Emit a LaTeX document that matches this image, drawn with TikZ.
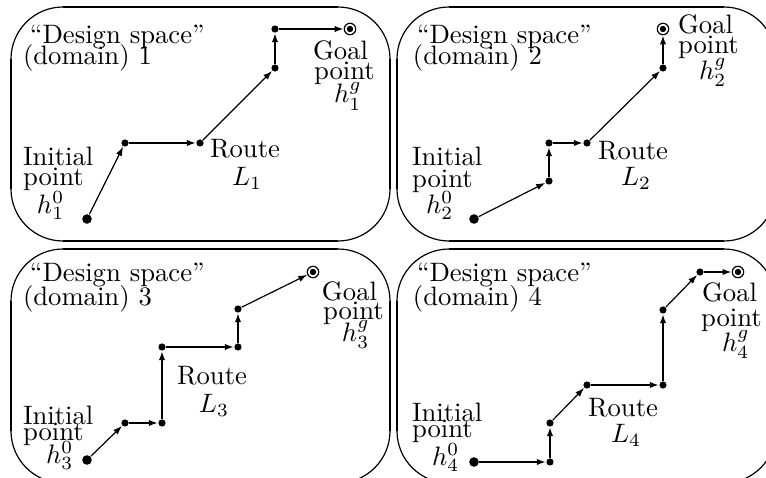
\documentclass[tikz,border=0pt]{standalone}
\usetikzlibrary{arrows.meta}
\tikzset{
  box/.style={line width=0.45pt, rounded corners=19.5pt},
  side/.style={line width=1pt},
  dot/.style={circle, fill, inner sep=0pt, minimum size=2.7pt},
  startdot/.style={circle, fill, inner sep=0pt, minimum size=3.6pt},
  goaldot/.style={circle, draw, line width=0.45pt, inner sep=0pt, minimum size=4.3pt,
    path picture={\fill (path picture bounding box.center) circle (1.2pt);}},
  thk/.style={line width=0.8pt, -{Latex[length=3.4pt,width=2.4pt]}},
  thn/.style={line width=0.45pt, -{Latex[length=3.4pt,width=2.4pt]}},
  lbl/.style={anchor=base west, inner sep=0pt, outer sep=0pt},
}
\newcommand\roundpanel[4]{%
  \draw[box] (#1,#2) rectangle (#3,#4);
  \draw[side] (#1+52,#2) -- (#3-52,#2);
  \draw[side] (#1+52,#4) -- (#3-52,#4);
  \draw[side] (#1,#2+52) -- (#1,#4-52);
  \draw[side] (#3,#2+52) -- (#3,#4-52);
}
\begin{document}
\begin{tikzpicture}[x=0.375pt, y=-0.375pt]
\useasboundingbox (0,0) rectangle (766,478);
\clip (0,0) rectangle (766,478);

% panels
\roundpanel{11}{7}{390}{241}
\roundpanel{397}{7}{776}{241}
\roundpanel{11}{249}{390}{483}
\roundpanel{397}{249}{776}{483}

% ---------- panel 1 ----------
\node[lbl] (t1a) at (30,43) {``Design space''};
\node[lbl] (t1b) at (23,64) {(domain) 1};
\node[lbl] (i1a) at (23,166) {Initial};
\node[lbl] (i1b) at (23,186) {point};
\node[lbl] (i1c) at (37,213) {$h_1^0$};
\node[lbl] (r1a) at (210,158) {Route};
\node[lbl] (r1b) at (232,185) {$L_1$};
\node[lbl] (g1a) at (313,60) {Goal};
\node[lbl] (g1b) at (314,80) {point};
\node[lbl] (g1c) at (334,103) {$h_1^g$};
\node[startdot] (a0) at (87,219) {};
\node[dot] (a1) at (125,143) {};
\node[dot] (a2) at (200,143) {};
\node[dot] (a3) at (275,68) {};
\node[dot] (a4) at (275,29) {};
\node[goaldot] (a5) at (350,29) {};
\draw[thn] (a0) -- (a1);
\draw[thk] (a1) -- (a2);
\draw[thn] (a2) -- (a3);
\draw[thk] (a3) -- (a4);
\draw[thk] (a4) -- (a5);

% ---------- panel 2 ----------
\node[lbl] (t2a) at (417,43) {``Design space''};
\node[lbl] (t2b) at (413,64) {(domain) 2};
\node[lbl] (i2a) at (412,166) {Initial};
\node[lbl] (i2b) at (412,187) {point};
\node[lbl] (i2c) at (426,213) {$h_2^0$};
\node[lbl] (r2a) at (598,159) {Route};
\node[lbl] (r2b) at (621,185) {$L_2$};
\node[lbl] (g2a) at (678,33) {Goal};
\node[lbl] (g2b) at (678,53) {point};
\node[lbl] (g2c) at (699,79) {$h_2^g$};
\node[startdot] (b0) at (474,219) {};
\node[dot] (b1) at (549,181) {};
\node[dot] (b2) at (549,143) {};
\node[dot] (b3) at (587,143) {};
\node[dot] (b4) at (663,68) {};
\node[goaldot] (b5) at (663,29) {};
\draw[thn] (b0) -- (b1);
\draw[thk] (b1) -- (b2);
\draw[thk] (b2) -- (b3);
\draw[thn] (b3) -- (b4);
\draw[thk] (b4) -- (b5);

% ---------- panel 3 ----------
\node[lbl] (t3a) at (30,282) {``Design space''};
\node[lbl] (t3b) at (23,305) {(domain) 3};
\node[lbl] (i3a) at (23,424) {Initial};
\node[lbl] (i3b) at (23,440) {point};
\node[lbl] (i3c) at (46,463) {$h_3^0$};
\node[lbl] (r3a) at (177,385) {Route};
\node[lbl] (r3b) at (199,412) {$L_3$};
\node[lbl] (g3a) at (322,300) {Goal};
\node[lbl] (g3b) at (323,319) {point};
\node[lbl] (g3c) at (342,341) {$h_3^g$};
\node[startdot] (c0) at (87,460) {};
\node[dot] (c1) at (125,423) {};
\node[dot] (c2) at (162,423) {};
\node[dot] (c3) at (162,347) {};
\node[dot] (c4) at (238,347) {};
\node[dot] (c5) at (238,309) {};
\node[goaldot] (c6) at (313,272) {};
\draw[thn] (c0) -- (c1);
\draw[thk] (c1) -- (c2);
\draw[thk] (c2) -- (c3);
\draw[thk] (c3) -- (c4);
\draw[thk] (c4) -- (c5);
\draw[thn] (c5) -- (c6);

% ---------- panel 4 ----------
\node[lbl] (t4a) at (417,282) {``Design space''};
\node[lbl] (t4b) at (413,305) {(domain) 4};
\node[lbl] (i4a) at (412,421) {Initial};
\node[lbl] (i4b) at (412,438) {point};
\node[lbl] (i4c) at (432,465) {$h_4^0$};
\node[lbl] (r4a) at (588,416) {Route};
\node[lbl] (r4b) at (611,442) {$L_4$};
\node[lbl] (g4a) at (702,302) {Goal};
\node[lbl] (g4b) at (701,326) {point};
\node[lbl] (g4c) at (722,351) {$h_4^g$};
\node[startdot] (d0) at (474,462) {};
\node[dot] (d1) at (550,462) {};
\node[dot] (d2) at (550,423) {};
\node[dot] (d3) at (587,385) {};
\node[dot] (d4) at (663,385) {};
\node[dot] (d5) at (663,310) {};
\node[dot] (d6) at (700,272) {};
\node[goaldot] (d7) at (738,272) {};
\draw[thk] (d0) -- (d1);
\draw[thk] (d1) -- (d2);
\draw[thn] (d2) -- (d3);
\draw[thk] (d3) -- (d4);
\draw[thk] (d4) -- (d5);
\draw[thn] (d5) -- (d6);
\draw[thk] (d6) -- (d7);
\end{tikzpicture}
\end{document}
